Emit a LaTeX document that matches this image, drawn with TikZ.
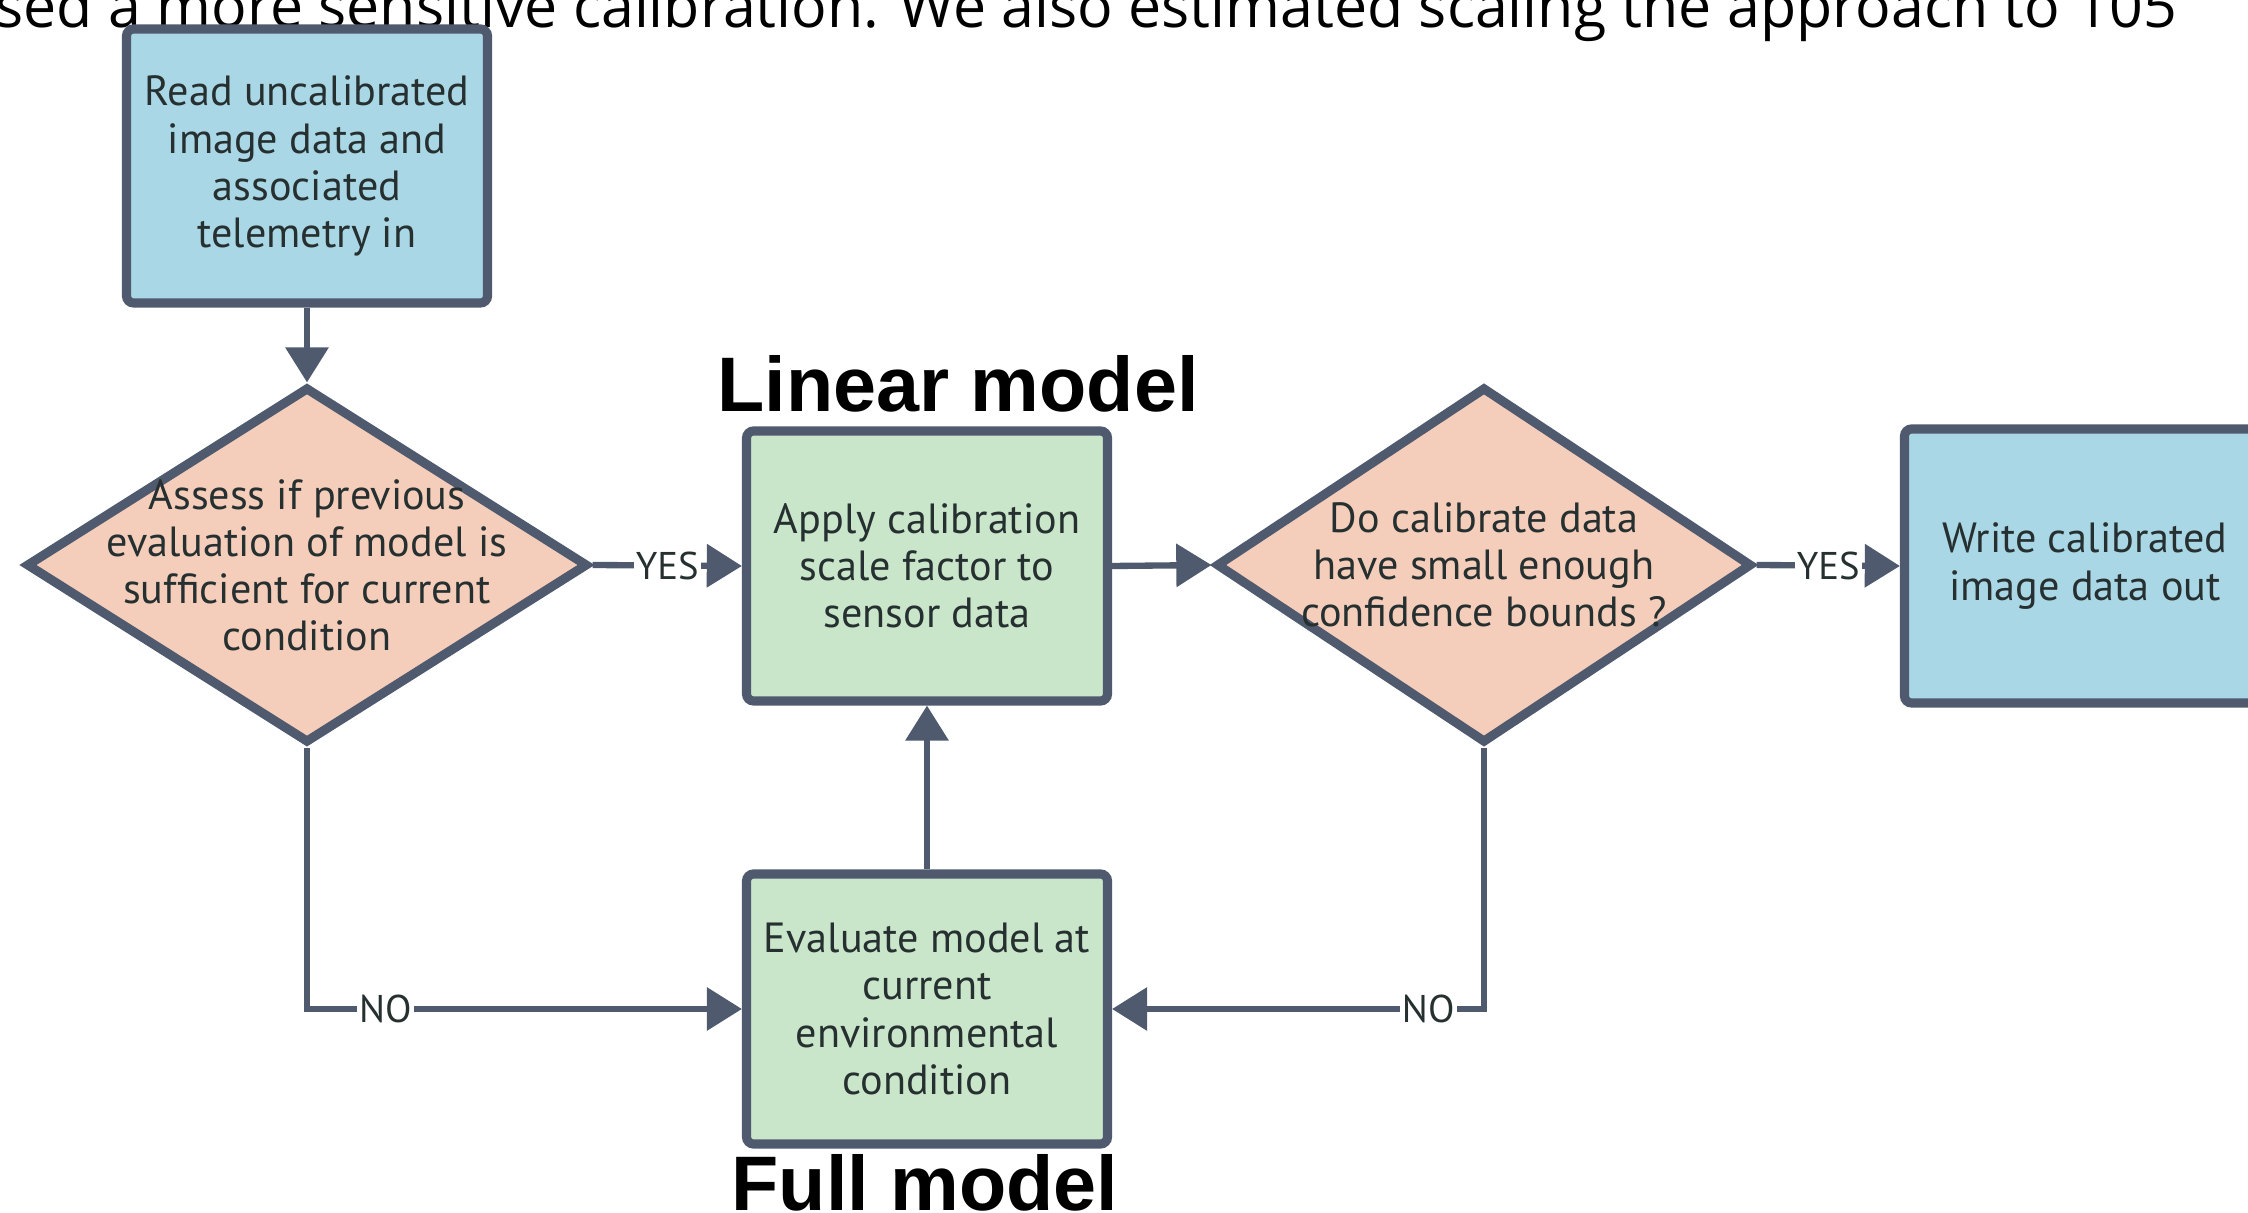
\documentclass[tikz,border=0pt]{standalone}
\usepackage{fontspec}
\setmainfont{PT Sans}
\newfontfamily\headfont{Liberation Sans}
\newfontfamily\runfont{Open Sans}
\usepackage{xcolor}
\usepackage{tikz}
\usetikzlibrary{shapes.geometric, arrows.meta, positioning}

\definecolor{boxblue}{RGB}{170,215,229}
\definecolor{boxgreen}{RGB}{201,230,202}
\definecolor{boxpeach}{RGB}{245,206,187}
\definecolor{edgegray}{RGB}{80,90,110}
\definecolor{inkdark}{RGB}{38,48,48}

\newcommand{\boxfont}{\fontsize{12}{13.4}\selectfont}

\begin{document}
\begin{tikzpicture}[
            iobox/.style={rectangle, rounded corners=2pt, draw=edgegray, line width=2.6pt, fill=boxblue,
            minimum width=3.61cm, minimum height=2.74cm, align=center, text=inkdark, font=\boxfont},
            modbox/.style={rectangle, rounded corners=2pt, draw=edgegray, line width=2.6pt, fill=boxgreen,
            minimum width=3.61cm, minimum height=2.70cm, align=center, text=inkdark, font=\boxfont},
            decide/.style={diamond, draw=edgegray, line width=2.6pt, fill=boxpeach, inner sep=0pt,
            minimum height=3.56cm},
            dtext/.style={align=center, text=inkdark, font=\boxfont},
            head/.style={font=\headfont\bfseries\fontsize{22}{26}\selectfont},
            flow/.style={-{Triangle[length=10pt, width=12pt]}, line width=1.8pt, edgegray},
            ans/.style={fill=white, inner sep=0.6pt, text=inkdark, font=\fontsize{11}{12}\selectfont}
        ]
            \useasboundingbox (0,0) rectangle (22.48,-12.13);
            \clip (0,0) rectangle (22.48,-12.13);

            % Cut-off line of running text at the top
            \node[anchor=base west, inner sep=0pt, font=\runfont\fontsize{16.8}{19}\selectfont] (runline) at (-0.05,-0.28)
                {sed a more sensitive calibration. We also estimated scaling the approach to 105};

            % Main flow nodes
            \node[iobox]  (read)     at (3.07,-1.66)  {Read uncalibrated\\image data and\\associated\\telemetry in};
            \node[decide, minimum width=5.62cm,
                label={[dtext]center:{Assess if previous\\evaluation of model is\\sufficient for current\\condition}}]
                          (assess)   at (3.07,-5.65)  {};
            \node[modbox] (apply)    at (9.27,-5.66)  {Apply calibration\\scale factor to\\sensor data};
            \node[decide, minimum width=5.36cm,
                label={[dtext]center:{Do calibrate data\\have small enough\\confidence bounds ?}}]
                          (bounds)   at (14.84,-5.65) {};
            \node[iobox]  (write)    at (20.85,-5.66) {Write calibrated\\image data out};
            \node[modbox] (evaluate) at (9.27,-10.09) {Evaluate model at\\current\\environmental\\condition};

            % Model titles
            \node[head] (lintitle)  at (9.58,-3.84)  {Linear model};
            \node[head] (fulltitle) at (9.25,-11.83) {Full model};

            % Connectors
            \draw[flow] (read.south)  -- (assess.north);
            \draw[flow] (assess.east) -- (apply.west)  node[midway, ans] {YES};
            \draw[flow] (apply.east)  -- (bounds.west);
            \draw[flow] (bounds.east) -- (write.west)  node[midway, ans] {YES};
            \draw[flow] (evaluate.north) -- (apply.south);

            % NO branches back to the full model
            \draw[flow] (assess.south) |- (evaluate.west) node[pos=0.59, ans] {NO};
            \draw[flow] (bounds.south) |- (evaluate.east) node[pos=0.575, ans] {NO};

        \end{tikzpicture}
\end{document}
